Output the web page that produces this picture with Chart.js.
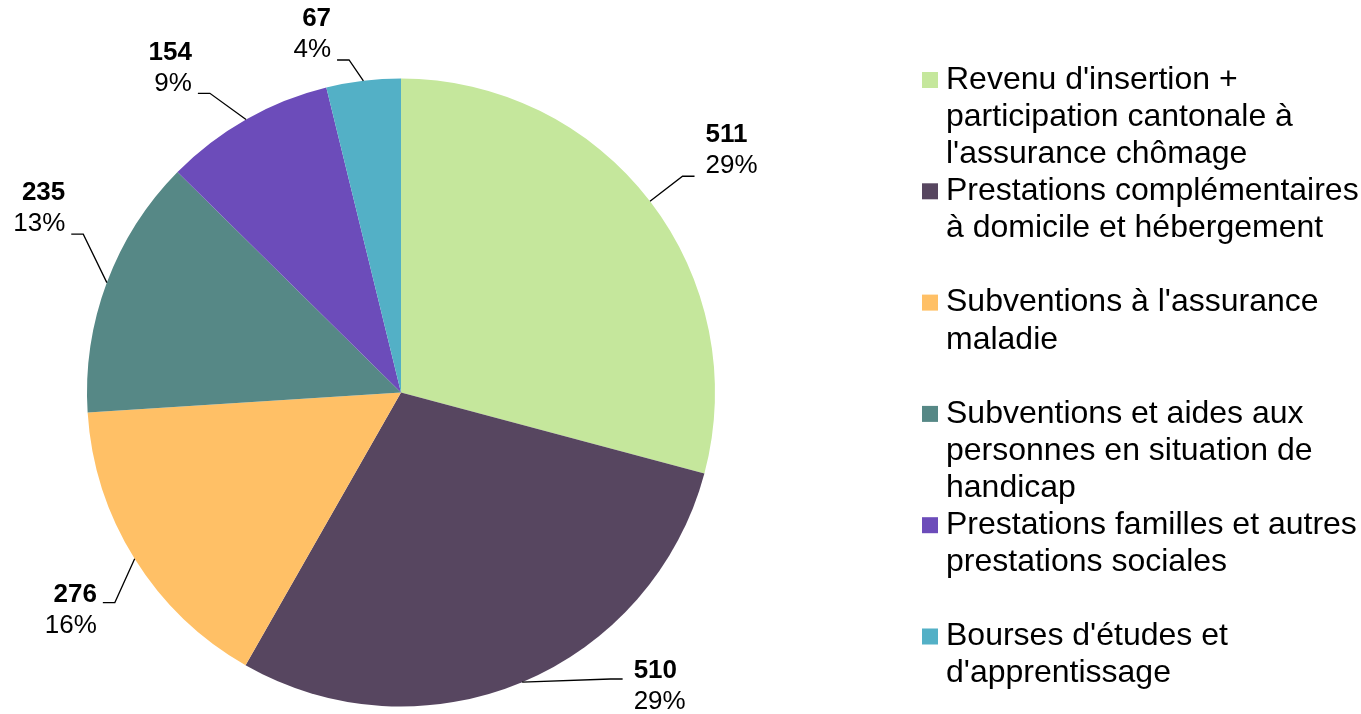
<!DOCTYPE html>
<html>
<head>
<meta charset="utf-8">
<script src="https://cdn.jsdelivr.net/npm/chart.js@4.4.0/dist/chart.umd.min.js"></script>
<style>
    body { margin: 0; background: #fff; }
    #wrap { width: 1361px; height: 714px; position: relative; }
</style>
</head>
<body>
<div id="wrap"><canvas id="pieChart"></canvas></div>
<script>
// Chart data
const categories = [
    "Revenu d'insertion + participation cantonale à l'assurance chômage",
    "Prestations complémentaires à domicile et hébergement",
    "Subventions à l'assurance maladie",
    "Subventions et aides aux personnes en situation de handicap",
    "Prestations familles et autres prestations sociales",
    "Bourses d'études et d'apprentissage"
];
// legend text as wrapped in the original
const legendLines = [
    ["Revenu d'insertion +", "participation cantonale à", "l'assurance chômage"],
    ["Prestations complémentaires", "à domicile et hébergement"],
    ["Subventions à l'assurance", "maladie"],
    ["Subventions et aides aux", "personnes en situation de", "handicap"],
    ["Prestations familles et autres", "prestations sociales"],
    ["Bourses d'études et", "d'apprentissage"]
];
const values = [511, 510, 276, 235, 154, 67];
const colors = ['#C5E79C', '#574660', '#FFC066', '#568886', '#6C4CBA', '#53B0C6'];
// small turn (degrees) of each leader elbow away from the slice middle
const elbowTurn = [0, 0, -4.3, 6, -3, -2];

const FONT = "'Liberation Sans', Arial, sans-serif";

// value + percent labels with leader lines
const sliceLabels = {
    id: 'sliceLabels',
    afterDatasetsDraw(chart) {
        const ctx = chart.ctx;
        const meta = chart.getDatasetMeta(0);
        const total = values.reduce((a, b) => a + b, 0);
        const minY = 60, maxY = 679;
        ctx.save();
        meta.data.forEach((arc, i) => {
            const p = arc.getProps(['x', 'y', 'startAngle', 'endAngle', 'outerRadius'], true);
            const a = (p.startAngle + p.endAngle) / 2;
            const r = p.outerRadius;
            const sx = p.x + r * Math.cos(a), sy = p.y + r * Math.sin(a);
            const b = a + elbowTurn[i] * Math.PI / 180;
            const dx = Math.cos(b), dy = Math.sin(b);
            const side = dx >= 0 ? 1 : -1;
            const upper = dy < 0;
            const ext = r + 41;
            let ex = p.x + ext * dx, ey = p.y + ext * dy;
            const lim = upper ? minY : maxY;
            if ((upper && ey < lim) || (!upper && ey > lim)) {
                const R = (lim - p.y) / dy;
                if (R >= r + 15) {
                    ex = p.x + R * dx; ey = p.y + R * dy;
                } else {
                    ey = lim;
                    ex = p.x + side * Math.sqrt(Math.max(ext * ext - (lim - p.y) * (lim - p.y), 0));
                }
            }
            const hx = ex + side * 12;
            ctx.strokeStyle = '#000';
            ctx.lineWidth = 1.3;
            ctx.beginPath();
            ctx.moveTo(sx, sy);
            ctx.lineTo(ex, ey);
            ctx.lineTo(hx, ey);
            ctx.stroke();

            const tx = hx + side * (side > 0 ? 11 : 6);
            ctx.textAlign = side > 0 ? 'left' : 'right';
            ctx.textBaseline = 'middle';
            ctx.fillStyle = '#000';
            const y1 = upper ? ey - 41 : ey - 8;
            const y2 = upper ? ey - 10 : ey + 23;
            ctx.font = 'bold 26px ' + FONT;
            ctx.fillText(String(values[i]), tx, y1);
            ctx.font = '26px ' + FONT;
            ctx.fillText(Math.round(values[i] / total * 100) + '%', tx, y2);
        });
        ctx.restore();
    }
};

// legend on the right, one three-line slot per item
const sideLegend = {
    id: 'sideLegend',
    afterDraw(chart) {
        const ctx = chart.ctx;
        const lineH = 37.1;
        const top = 80;
        const boxX = 922, textX = 946, box = 16;
        ctx.save();
        ctx.font = '32px ' + FONT;
        ctx.textBaseline = 'middle';
        ctx.textAlign = 'left';
        legendLines.forEach((lines, i) => {
            const y0 = top + i * lineH * 3;
            ctx.fillStyle = colors[i];
            ctx.fillRect(boxX, y0 - box / 2, box, box);
            ctx.fillStyle = '#000';
            lines.forEach((t, j) => ctx.fillText(t, textX, y0 + j * lineH));
        });
        ctx.restore();
    }
};

new Chart(document.getElementById('pieChart'), {
    type: 'pie',
    data: {
        labels: categories,
        datasets: [{
            data: values,
            backgroundColor: colors,
            borderWidth: 0
        }]
    },
    options: {
        responsive: true,
        maintainAspectRatio: false,
        animation: false,
        layout: { padding: { left: 87, right: 646, top: 78, bottom: 7 } },
        plugins: {
            legend: { display: false },
            tooltip: { enabled: false }
        }
    },
    plugins: [sliceLabels, sideLegend]
});
</script>
</body>
</html>
